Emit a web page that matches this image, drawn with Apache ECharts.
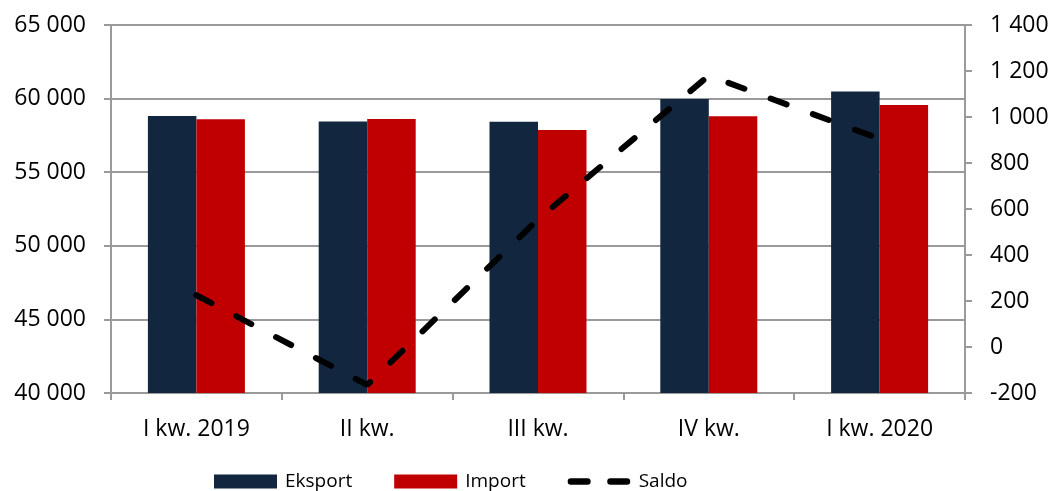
<!DOCTYPE html>
<html>
<head>
<meta charset="utf-8">
<script src="https://cdn.jsdelivr.net/npm/echarts@6/dist/echarts.min.js"></script>
<style>
  html, body { margin: 0; padding: 0; background: #fff; }
  #chart { width: 1052px; height: 491px; }
</style>
</head>
<body>
<div id="chart"></div>
<script>
// Quarterly trade: exports and imports (left axis), balance (right axis)
const categories = ['I kw. 2019', 'II kw.', 'III kw.', 'IV kw.', 'I kw. 2020'];
const eksport = [58820, 58450, 58430, 59980, 60480];
const importVals = [58600, 58620, 57870, 58800, 59570];
const saldo = [225, -165, 555, 1180, 905];

const leftTicks = { min: 40000, max: 65000, interval: 5000 };
const rightTicks = { min: -200, max: 1400, interval: 200 };

const FONT = 'Open Sans';
const AXIS_GREY = '#9a9a9a';

// Two rounded dashes for the balance legend key (moveTo corners fix the icon box)
const DASH_ICON = 'path://M0,0 M68,14 M3,3.5 h18 a3.5,3.5 0 0 1 0,7 h-18 a3.5,3.5 0 0 1 0,-7 z M46,3.5 h18 a3.5,3.5 0 0 1 0,7 h-18 a3.5,3.5 0 0 1 0,-7 z';

// "65 000" style thousands separator
function spaced(v) {
  const s = String(Math.abs(v)).replace(/\B(?=(\d{3})+(?!\d))/g, ' ');
  return v < 0 ? '-' + s : s;
}

const chart = echarts.init(document.getElementById('chart'), null, { renderer: 'canvas' });

chart.setOption({
  animation: false,
  textStyle: { fontFamily: FONT, color: '#000' },
  grid: { left: 111, right: 87, top: 25, bottom: 98, containLabel: false },
  legend: {
    left: 214,
    top: 472,
    padding: 0,
    itemWidth: 63,
    itemHeight: 14,
    itemGap: 42,
    textStyle: { fontFamily: FONT, fontSize: 19, color: '#000', padding: [0, 0, 0, 3] },
    data: [
      { name: 'Eksport', icon: 'rect' },
      { name: 'Import', icon: 'rect' },
      { name: 'Saldo', icon: DASH_ICON, itemStyle: { color: '#000', borderWidth: 0 } }
    ]
  },
  xAxis: {
    type: 'category',
    data: categories,
    axisLine: { onZero: false, lineStyle: { color: AXIS_GREY, width: 2 } },
    axisTick: { show: true, alignWithLabel: false, length: 7, lineStyle: { color: AXIS_GREY, width: 2 } },
    axisLabel: { fontFamily: FONT, fontSize: 23, color: '#000', margin: 25 }
  },
  yAxis: [
    {
      type: 'value',
      position: 'left',
      min: leftTicks.min,
      max: leftTicks.max,
      interval: leftTicks.interval,
      axisLine: { show: true, lineStyle: { color: AXIS_GREY, width: 2 } },
      axisTick: { show: true, length: 7, lineStyle: { color: AXIS_GREY, width: 2 } },
      splitLine: { show: true, lineStyle: { color: AXIS_GREY, width: 2 } },
      axisLabel: { fontFamily: FONT, fontSize: 23, color: '#000', margin: 25, formatter: spaced }
    },
    {
      type: 'value',
      position: 'right',
      min: rightTicks.min,
      max: rightTicks.max,
      interval: rightTicks.interval,
      axisLine: { show: true, lineStyle: { color: AXIS_GREY, width: 2 } },
      axisTick: { show: true, length: 7, lineStyle: { color: AXIS_GREY, width: 2 } },
      splitLine: { show: false },
      axisLabel: { fontFamily: FONT, fontSize: 23, color: '#000', margin: 25, formatter: spaced }
    }
  ],
  series: [
    {
      name: 'Eksport',
      type: 'bar',
      yAxisIndex: 0,
      data: eksport,
      barWidth: 48.5,
      barGap: '0%',
      itemStyle: { color: '#12263F' }
    },
    {
      name: 'Import',
      type: 'bar',
      yAxisIndex: 0,
      data: importVals,
      barWidth: 48.5,
      barGap: '0%',
      itemStyle: { color: '#C00000' }
    },
    {
      name: 'Saldo',
      type: 'line',
      yAxisIndex: 1,
      data: saldo,
      symbol: 'none',
      z: 5,
      itemStyle: { color: '#000' },
      lineStyle: { color: '#000', width: 6, type: [17, 28], cap: 'round' }
    }
  ]
});
</script>
</body>
</html>
